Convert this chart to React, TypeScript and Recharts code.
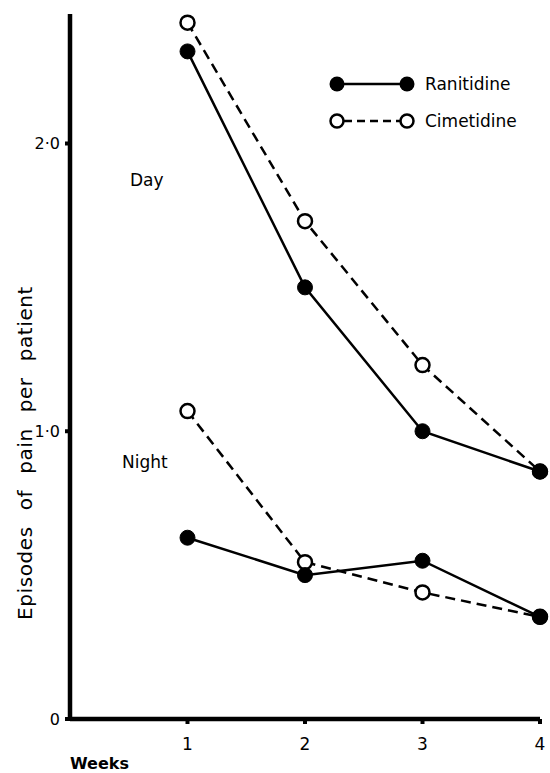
import React from "react";
import { LineChart, Line, XAxis, YAxis, Customized } from "recharts";

const weeks = [1, 2, 3, 4];
const dayRanitidine = [2.32, 1.5, 1.0, 0.86];
const dayCimetidine = [2.42, 1.73, 1.23, 0.86];
const nightRanitidine = [0.63, 0.5, 0.55, 0.355];
const nightCimetidine = [1.07, 0.545, 0.44, 0.355];
const yTicks = [0, 1, 2];
const xTicks = [1, 2, 3, 4];

const data = weeks.map((w, i) => ({
  week: w,
  dayRan: dayRanitidine[i],
  dayCim: dayCimetidine[i],
  nightRan: nightRanitidine[i],
  nightCim: nightCimetidine[i],
}));

const FONT = "'DejaVu Sans', 'Liberation Sans', sans-serif";

const fmtY = (v: number) => (v === 0 ? "0" : v.toFixed(1).replace(".", "\u00b7"));

const YTick = (props: any) => {
  const { x, y, payload } = props;
  return (
    <text x={x - 3} y={y} dy={6} textAnchor="end" fontFamily={FONT} fontSize={16} fill="#000">
      {fmtY(payload.value)}
    </text>
  );
};

const XTick = (props: any) => {
  const { x, y, payload } = props;
  return (
    <text x={x} y={y + 24} textAnchor="middle" fontFamily={FONT} fontSize={17} fill="#000">
      {payload.value}
    </text>
  );
};

const FilledDot = (props: any) => {
  const { cx, cy } = props;
  return <circle cx={cx} cy={cy} r={7.5} fill="#000" stroke="#000" strokeWidth={1} />;
};
const OpenDot = (props: any) => {
  const { cx, cy } = props;
  return <circle cx={cx} cy={cy} r={7} fill="#fff" stroke="#000" strokeWidth={2.5} />;
};

const Labels = () => (
  <g fontFamily={FONT} fill="#000">
    <g transform="translate(330, 75)">
      <line x1={7} y1={9} x2={77} y2={9} stroke="#000" strokeWidth={2.5} />
      <circle cx={7} cy={9} r={7.5} fill="#000" />
      <circle cx={77} cy={9} r={7.5} fill="#000" />
      <text x={95} y={15} fontSize={17}>Ranitidine</text>
      <line x1={14} y1={46} x2={70} y2={46} stroke="#000" strokeWidth={2.5} strokeDasharray="8 5" />
      <circle cx={7} cy={46} r={6.5} fill="#fff" stroke="#000" strokeWidth={2.5} />
      <circle cx={77} cy={46} r={6.5} fill="#fff" stroke="#000" strokeWidth={2.5} />
      <text x={95} y={52} fontSize={17}>Cimetidine</text>
    </g>
    <text x={130} y={186} fontSize={17}>Day</text>
    <text x={122} y={468} fontSize={17}>Night</text>
    <text x={70} y={769} fontSize={16} fontWeight="bold">Weeks</text>
    <text
      x={0}
      y={0}
      fontSize={20}
      textAnchor="middle"
      transform="translate(32, 453) rotate(-90)"
      style={{ wordSpacing: 9, letterSpacing: 0.6 }}
    >
      Episodes of pain per patient
    </text>
  </g>
);

export default function App() {
  return (
    <div style={{ position: "absolute", left: 0, top: 0, width: 550, height: 773, background: "#fff" }}>
      <LineChart
        width={550}
        height={773}
        data={data}
        margin={{ top: 14, right: 10, left: 10, bottom: 14 }}
      >
        <XAxis
          dataKey="week"
          type="number"
          domain={[0, 4]}
          ticks={xTicks}
          height={40}
          axisLine={{ stroke: "#000", strokeWidth: 4.5 }}
          tickLine={{ stroke: "#000", strokeWidth: 4 }}
          tickSize={5}
          tick={<XTick />}
          interval={0}
        />
        <YAxis
          type="number"
          domain={[0, 2.45]}
          ticks={yTicks}
          width={60}
          axisLine={{ stroke: "#000", strokeWidth: 4.5 }}
          tickLine={{ stroke: "#000", strokeWidth: 4 }}
          tickSize={5}
          tick={<YTick />}
          interval={0}
          allowDataOverflow
        />
        <Line
          dataKey="dayCim"
          stroke="#000"
          strokeWidth={2.5}
          strokeDasharray="10 6"
          dot={<OpenDot />}
          isAnimationActive={false}
          type="linear"
        />
        <Line
          dataKey="nightCim"
          stroke="#000"
          strokeWidth={2.5}
          strokeDasharray="10 6"
          dot={<OpenDot />}
          isAnimationActive={false}
          type="linear"
        />
        <Line
          dataKey="dayRan"
          stroke="#000"
          strokeWidth={2.5}
          dot={<FilledDot />}
          isAnimationActive={false}
          type="linear"
        />
        <Line
          dataKey="nightRan"
          stroke="#000"
          strokeWidth={2.5}
          dot={<FilledDot />}
          isAnimationActive={false}
          type="linear"
        />
        <Customized component={<Labels />} />
      </LineChart>
    </div>
  );
}
